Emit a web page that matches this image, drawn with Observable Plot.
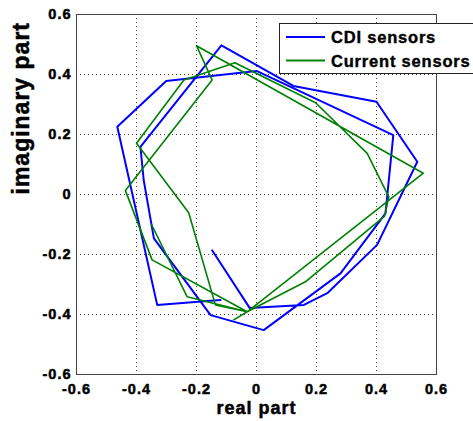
<!DOCTYPE html>
<html>
<head>
<meta charset="utf-8">
<script src="https://cdn.jsdelivr.net/npm/d3@7"></script>
<script src="https://cdn.jsdelivr.net/npm/@observablehq/plot@0.6"></script>
<style>
  html, body { margin: 0; padding: 0; background: #fff; }
  body { position: relative; width: 473px; height: 421px; overflow: hidden; }
  #legend { position: absolute; left: 279px; top: 23px; }
</style>
</head>
<body>
<div id="chart"></div>
<svg id="legend" width="194" height="52"></svg>
<script>
// ---- data ----
const xTicks = [-0.6, -0.4, -0.2, 0, 0.2, 0.4, 0.6];
const yTicks = [-0.6, -0.4, -0.2, 0, 0.2, 0.4, 0.6];
const seriesNames = ["CDI sensors", "Current sensors"];
const seriesColors = ["#0000ff", "#008000"];
const axisLabels = ["real part", "imaginary part"];

// CDI sensors trajectory (real, imaginary)
const cdiReal = [-0.148, -0.023, 0.158, 0.236, 0.402, 0.536, 0.400, 0.123, -0.117, -0.387, -0.376, -0.342, -0.153, 0.024, 0.280, 0.430, 0.456, 0.000, -0.301, -0.464, -0.331, -0.120];
const cdiImag = [-0.186, -0.378, -0.368, -0.329, -0.168, 0.109, 0.309, 0.362, 0.497, 0.159, 0.048, -0.146, -0.402, -0.452, -0.263, -0.063, 0.198, 0.412, 0.378, 0.226, -0.368, -0.352];

// Current sensors trajectory (real, imaginary)
const curReal = [-0.350, -0.231, -0.031, -0.137, -0.226, -0.400, -0.242, -0.072, 0.197, 0.369, 0.441, 0.427, 0.163, -0.031, 0.556, -0.200, -0.148, -0.437, -0.348, -0.031, -0.076];
const curImag = [-0.100, -0.341, -0.391, -0.368, -0.061, 0.171, 0.382, 0.439, 0.306, 0.137, -0.008, -0.072, -0.291, -0.391, 0.071, 0.496, 0.382, 0.013, -0.218, -0.391, -0.418];

// ---- build tables ----
const cdi = cdiReal.map((x, i) => ({x, y: cdiImag[i]}));
const cur = curReal.map((x, i) => ({x, y: curImag[i]}));
const fmt = d => (Math.abs(d) < 1e-9 ? "0" : String(+d.toFixed(1)));
const inner = a => a.slice(1, -1);
const labelFont = "'Liberation Sans', Arial, Helvetica, sans-serif";

const chart = Plot.plot({
  width: 473,
  height: 421,
  marginLeft: 76,
  marginRight: 37,
  marginTop: 14,
  marginBottom: 47,
  style: {
    fontFamily: labelFont,
    fontSize: "14px",
    fontWeight: "bold",
    background: "#fff",
    color: "#000",
    overflow: "visible"
  },
  x: {domain: [-0.6, 0.6]},
  y: {domain: [-0.6, 0.6]},
  marks: [
    Plot.gridX(inner(xTicks), {stroke: "#000", strokeOpacity: 0.75, strokeDasharray: "1,3"}),
    Plot.gridY(inner(yTicks), {stroke: "#000", strokeOpacity: 0.75, strokeDasharray: "1,3"}),
    Plot.line(cdi, {x: "x", y: "y", stroke: seriesColors[0], strokeWidth: 2, curve: "linear"}),
    Plot.line(cur, {x: "x", y: "y", stroke: seriesColors[1], strokeWidth: 1.6, curve: "linear"}),
    Plot.frame({stroke: "#444", strokeWidth: 1}),
    Plot.axisX(xTicks, {tickSize: 0, tickPadding: 9, tickFormat: fmt, label: null, fontSize: 14.5, fontWeight: "bold", fontFamily: labelFont}),
    Plot.axisY(yTicks, {tickSize: 0, tickPadding: 5, tickFormat: fmt, label: null, fontSize: 14.5, fontWeight: "bold", fontFamily: labelFont}),
    Plot.text([axisLabels[0]], {text: d => d, frameAnchor: "bottom", lineAnchor: "top", dy: 27, fontSize: 18, fontWeight: "bold"}),
    Plot.text([axisLabels[1]], {text: d => d, frameAnchor: "left", rotate: -90, dx: -55, fontSize: 23, fontWeight: "bold"})
  ]
});
document.getElementById("chart").appendChild(chart);

// heavier, slightly wider labels like the MATLAB bitmap font
d3.select(chart).selectAll("text")
  .style("font-weight", "bold")
  .style("letter-spacing", "1px")
  .style("stroke", "#000")
  .style("stroke-width", "0.5px");

// ---- legend (inside the axes, top right) ----
const lg = d3.select("#legend");
lg.append("rect").attr("x", 0.5).attr("y", 0.5).attr("width", 220).attr("height", 50)
  .attr("fill", "#fff").attr("stroke", "#222").attr("stroke-width", 1);
const rows = [14, 37.5];
seriesNames.forEach((name, i) => {
  lg.append("line").attr("x1", 7).attr("x2", 46).attr("y1", rows[i]).attr("y2", rows[i])
    .attr("stroke", seriesColors[i]).attr("stroke-width", 2);
  lg.append("text").attr("x", 52).attr("y", rows[i] + 6)
    .attr("font-family", labelFont)
    .attr("font-size", 16.5).attr("font-weight", "bold").attr("letter-spacing", "0.8px")
    .attr("stroke", "#000").attr("stroke-width", 0.4)
    .attr("fill", "#000").text(name);
});
</script>
</body>
</html>
